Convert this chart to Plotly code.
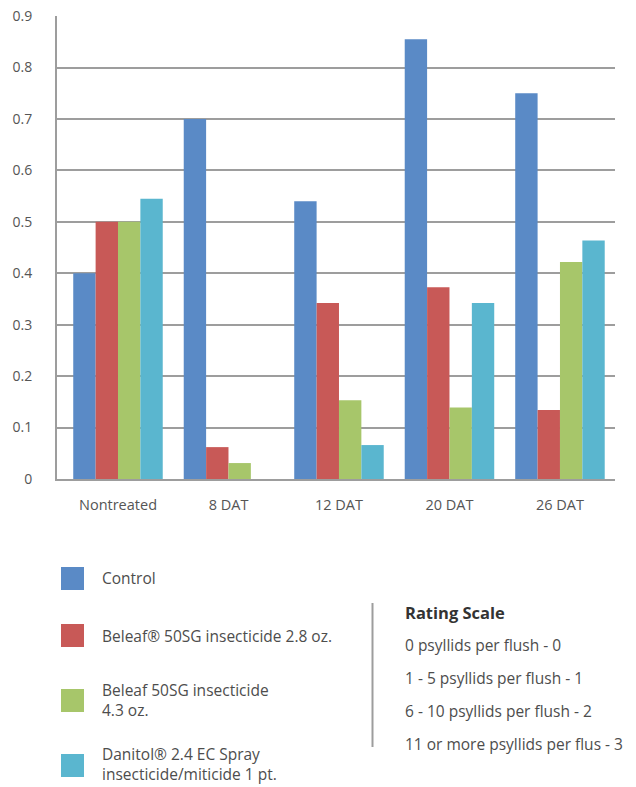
import plotly.graph_objects as go

categories = ["Nontreated", "8 DAT", "12 DAT", "20 DAT", "26 DAT"]
control = [0.40, 0.70, 0.54, 0.855, 0.75]
beleaf_28 = [0.50, 0.062, 0.342, 0.373, 0.134]
beleaf_43 = [0.50, 0.031, 0.153, 0.139, 0.422]
danitol = [0.545, None, 0.066, 0.342, 0.464]

y_ticks = [0, 0.1, 0.2, 0.3, 0.4, 0.5, 0.6, 0.7, 0.8, 0.9]
y_tick_labels = ["0", "0.1", "0.2", "0.3", "0.4", "0.5", "0.6", "0.7", "0.8", "0.9"]

series_names = [
    "Control",
    "Beleaf® 50SG insecticide 2.8 oz.",
    "Beleaf 50SG insecticide<br>4.3 oz.",
    "Danitol® 2.4 EC Spray<br>insecticide/miticide 1 pt.",
]
series_values = [control, beleaf_28, beleaf_43, danitol]
colors = ["#5A8AC6", "#C85957", "#A7C66A", "#5AB6CF"]

rating_title = "Rating Scale"
rating_lines = [
    "0 psyllids per flush - 0",
    "1 - 5 psyllids per flush - 1",
    "6 - 10 psyllids per flush - 2",
    "11 or more psyllids per flus - 3",
]

OFF = 8  # page body margin
W, H = 636 - OFF, 787 - OFF
L, R, T, B = 57 - OFF, 21, 16 - OFF, 308
FONT = "Open Sans"
GRID = "#9d9d9d"
TXT = "#555555"

fig = go.Figure()
for name, vals, col in zip(series_names, series_values, colors):
    fig.add_trace(go.Bar(x=categories, y=vals, name=name, marker_color=col,
                         marker_line_width=0, showlegend=False))

fig.update_layout(
    width=W, height=H,
    margin=dict(l=L, r=R, t=T, b=B, pad=0, autoexpand=False),
    paper_bgcolor="white", plot_bgcolor="white",
    barmode="group", bargap=0.19, bargroupgap=0,
    font=dict(family=FONT, size=14, color=TXT),
    xaxis=dict(type="category", range=[-0.552, 4.498], showline=True,
               linecolor=GRID, linewidth=2, ticks="", showgrid=False,
               tickfont=dict(size=14.5, color=TXT), ticklabelstandoff=12),
    yaxis=dict(range=[0, 0.9003], tickmode="array", tickvals=y_ticks,
               ticktext=y_tick_labels, showgrid=True, gridcolor=GRID,
               gridwidth=2, showline=True, linecolor=GRID, linewidth=2,
               zeroline=False, ticks="", tickfont=dict(size=14, color=TXT),
               ticklabelstandoff=20, ticklabeloverflow="allow"),
)

ph = H - T - B
pw = W - L - R

# screen-pixel -> paper coordinates
def px(x):
    return (x - OFF - L) / pw

def py(y):
    return (H - B - (y - OFF)) / ph

shapes = []
annotations = []
swatch_tops = [567, 624, 689, 754]
text_centers = [578, 636, 700, 764]
for top, yc, name, col in zip(swatch_tops, text_centers, series_names, colors):
    shapes.append(dict(type="rect", xref="paper", yref="paper",
                       x0=px(61), x1=px(84), y0=py(top), y1=py(top + 23),
                       fillcolor=col, line_width=0))
    annotations.append(dict(text=name, xref="paper", yref="paper",
                            x=px(100), y=py(yc), xanchor="left", yanchor="middle",
                            showarrow=False, align="left",
                            font=dict(size=15.5, color="#4d4d4d", family=FONT)))

shapes.append(dict(type="line", xref="paper", yref="paper",
                   x0=px(372.5), x1=px(372.5), y0=py(603), y1=py(747),
                   line=dict(color=GRID, width=2)))
annotations.append(dict(text="<b>" + rating_title + "</b>", xref="paper", yref="paper",
                        x=px(403), y=py(612), xanchor="left", yanchor="middle",
                        showarrow=False, font=dict(size=16.5, color="#333333", family=FONT)))
for i, line in enumerate(rating_lines):
    annotations.append(dict(text=line, xref="paper", yref="paper",
                            x=px(403), y=py(645 + 33 * i), xanchor="left", yanchor="middle",
                            showarrow=False, font=dict(size=15.5, color="#4d4d4d", family=FONT)))

fig.update_layout(shapes=shapes, annotations=annotations)
fig.write_html("out.html")
